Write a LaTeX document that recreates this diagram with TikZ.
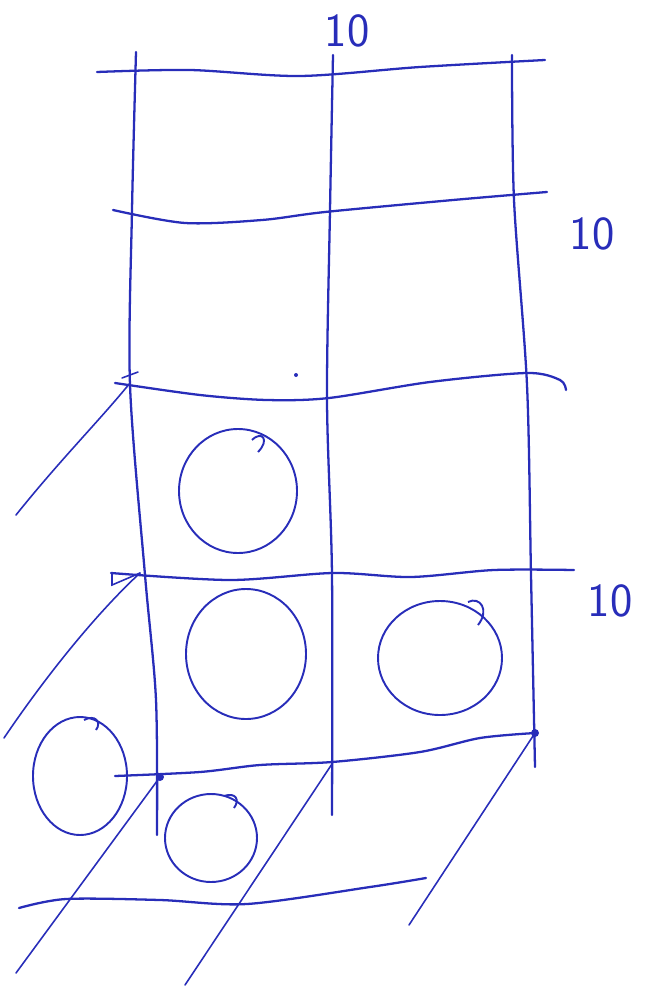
\documentclass[tikz,border=0pt]{standalone}
\usepackage{tikz}
\usetikzlibrary{positioning}
\definecolor{inkBlue}{RGB}{40,45,185}
\tikzset{
  pen/.style={draw=inkBlue, line width=1.3pt, line cap=round, line join=round},
  stroke/.style={draw=inkBlue, line width=0.9pt, line cap=round},
  blob/.style={draw=inkBlue, line width=1.1pt},
  dimlabel/.style={text=inkBlue, inner sep=0pt, font=\sffamily\fontsize{27}{27}\selectfont}
}

\begin{document}
\begin{tikzpicture}[x=0.02cm,y=-0.02cm]
  \useasboundingbox (0,0) rectangle (645,993);

  % grid corners the slanted strokes run into
  \coordinate (rowThreeL) at (130,383);
  \coordinate (rowFourL) at (140,573);
  \coordinate (rowFiveL) at (160,777);
  \coordinate (rowFiveM) at (332,764);
  \coordinate (rowFiveR) at (535,733);

  % horizontal rows
  \draw[pen] plot[smooth] coordinates {(97,72) (190,70) (300,76) (420,67) (545,60)};
  \draw[pen] plot[smooth] coordinates {(113,210) (185,223) (262,220) (325,212) (453,200) (547,192)};
  \draw[pen] plot[smooth] coordinates {(115,383) (200,395) (267,400) (329,398) (430,382) (527,373) (560,380) (566,390)};
  \draw[pen] plot[smooth] coordinates {(111,573) (230,580) (333,573) (411,577) (494,570) (574,570)};
  \draw[pen] plot[smooth] coordinates {(115,776) (200,772) (260,765) (332,762) (420,752) (480,738) (535,733)};
  \draw[pen] plot[smooth] coordinates {(19,908) (66,899) (160,900) (247,904) (370,887) (426,878)};

  % vertical columns
  \draw[pen] plot[smooth] coordinates {(136,52) (132,210) (130,385) (145,575) (156,700) (157,835)};
  \draw[pen] plot[smooth] coordinates {(333,55) (330,210) (327,400) (332,575) (332,815)};
  \draw[pen] plot[smooth] coordinates {(512,55) (514,200) (527,385) (531,575) (535,767)};

  % slanted strokes
  \draw[stroke] (16,515) .. controls (60,460) and (100,420) .. (rowThreeL);
  \draw[stroke] (4,738) .. controls (50,670) and (100,610) .. (rowFourL);
  \draw[stroke] (16,973) -- (rowFiveL);
  \draw[stroke] (185,985) -- (rowFiveM);
  \draw[stroke] (409,925) -- (rowFiveR);
  \draw[stroke] (112,573) -- (112,585) -- (rowFourL);
  \draw[stroke] (122,378) -- (138,372);

  \fill[inkBlue] (rowFiveL) circle (4);
  \fill[inkBlue] (rowFiveR) circle (4);
  \fill[inkBlue] (296,375) circle (2);

  % circles
  \draw[blob] (238,491) ellipse [x radius=59, y radius=62];
  \draw[blob] (252,440) .. controls (262,430) and (270,440) .. (258,452);
  \draw[blob] (246,654) ellipse [x radius=60, y radius=65];
  \draw[blob] (440,658) ellipse [x radius=62, y radius=57];
  \draw[blob] (468,602) .. controls (480,596) and (490,610) .. (478,625);
  \draw[blob] (80,776) ellipse [x radius=47, y radius=59];
  \draw[blob] (84,720) .. controls (95,714) and (102,722) .. (96,730);
  \draw[blob] (211,838) ellipse [x radius=46, y radius=44];
  \draw[blob] (224,796) .. controls (236,792) and (240,800) .. (234,808);

  % dimension labels
  \node[dimlabel] (topTen) at (347,31) {10};
  \node[dimlabel] (upperTen) at (592,234) {10};
  \node[dimlabel] (lowerTen) at (610,601) {10};
\end{tikzpicture}
\end{document}
